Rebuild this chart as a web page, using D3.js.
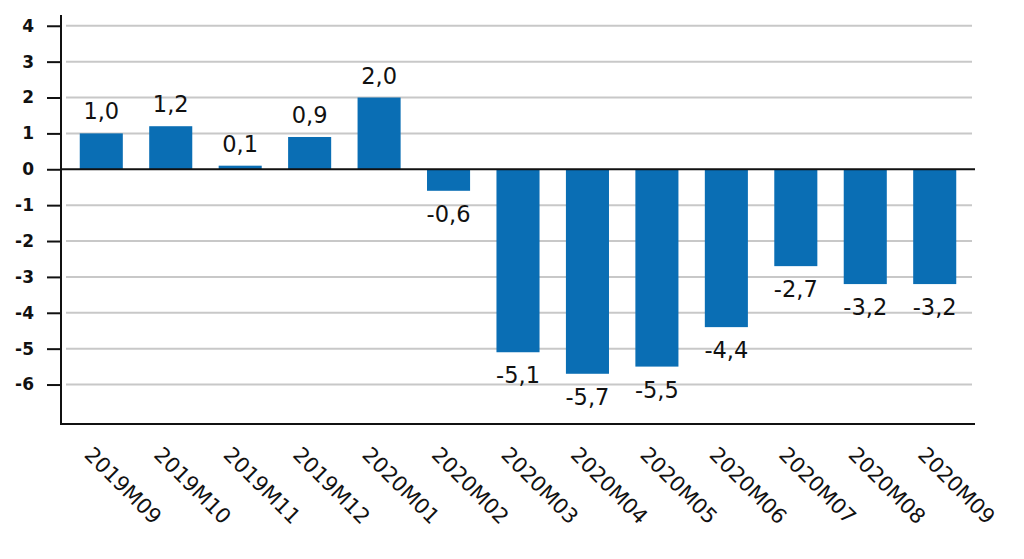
<!DOCTYPE html>
<html><head><meta charset="utf-8">
<script src="https://cdn.jsdelivr.net/npm/d3@7"></script>
<style>body{margin:0;background:#fff}svg{display:block}text{font-family:"DejaVu Sans",sans-serif}</style>
</head><body><svg id="c" width="1024" height="559"></svg>
<script>
const categories = ["2019M09","2019M10","2019M11","2019M12","2020M01","2020M02","2020M03","2020M04","2020M05","2020M06","2020M07","2020M08","2020M09"];
const values = [1.0, 1.2, 0.1, 0.9, 2.0, -0.6, -5.1, -5.7, -5.5, -4.4, -2.7, -3.2, -3.2];
const yTicks = [4,3,2,1,0,-1,-2,-3,-4,-5,-6];

const svg = d3.select("#c");
const x = d3.scaleBand().domain(categories).range([61, 975]).paddingInner(0.38).paddingOuter(0.27);
const y = d3.scaleLinear().domain([-7.1, 4.3]).range([424, 15]);
const fmt = v => v.toFixed(1).replace(".", ",");
const FONT = '"DejaVu Sans",sans-serif';

// gridlines
svg.append("g").selectAll("line").data(yTicks.filter(t => t !== 0)).join("line")
  .attr("x1", 66).attr("x2", 972).attr("y1", d => y(d)).attr("y2", d => y(d))
  .attr("stroke", "#c8c8c8").attr("stroke-width", 2);

// bars
svg.append("g").selectAll("rect").data(values).join("rect")
  .attr("x", (d, i) => x(categories[i])).attr("width", x.bandwidth())
  .attr("y", d => y(Math.max(0, d))).attr("height", d => Math.abs(y(d) - y(0)))
  .attr("fill", "#0a6eb4");

// zero line
svg.append("line").attr("x1", 61).attr("x2", 975).attr("y1", y(0)).attr("y2", y(0))
  .attr("stroke", "#111").attr("stroke-width", 2);

// y axis
const yAxis = d3.axisLeft(y).tickValues(yTicks).tickSize(14).tickPadding(13).tickFormat(d => d);
const gy = svg.append("g").attr("transform", "translate(61,0)").call(yAxis);
gy.select(".domain").remove();
gy.selectAll(".tick line").attr("stroke", "#111").attr("stroke-width", 2);
gy.selectAll(".tick text").attr("font-size", 17).attr("font-weight", "bold").attr("fill", "#111")
  .style("font-family", FONT);
svg.append("line").attr("x1", 61).attr("x2", 61).attr("y1", 15).attr("y2", 425).attr("stroke", "#111").attr("stroke-width", 2);

// x axis
const xAxis = d3.axisBottom(x).tickSize(0).tickPadding(0);
const gx = svg.append("g").attr("transform", "translate(0,424)").call(xAxis);
gx.select(".domain").remove();
svg.append("line").attr("x1", 60).attr("x2", 975).attr("y1", 424).attr("y2", 424).attr("stroke", "#111").attr("stroke-width", 2);
gx.selectAll(".tick text")
  .attr("font-size", 21).attr("fill", "#111").attr("text-anchor", "start")
  .style("font-family", FONT)
  .attr("dy", 0).attr("y", 0)
  .attr("transform", "translate(-18,32) rotate(45)");

// value labels
svg.append("g").selectAll("text").data(values).join("text")
  .attr("x", (d, i) => x(categories[i]) + x.bandwidth() / 2)
  .attr("y", d => d >= 0 ? y(d) - 14 : y(d) + 31)
  .attr("text-anchor", "middle").attr("font-size", 22.5).attr("fill", "#111")
  .style("font-family", FONT)
  .text(d => fmt(d));
</script></body></html>
